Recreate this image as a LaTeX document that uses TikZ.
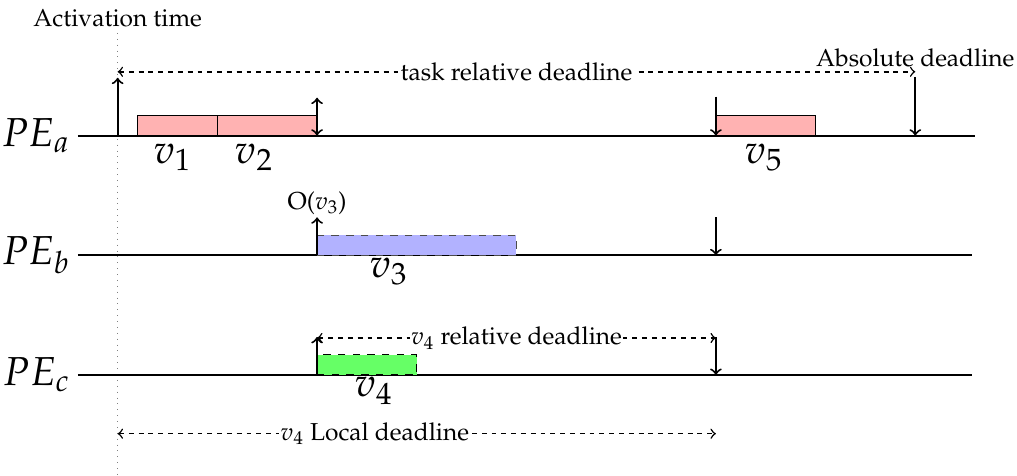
\documentclass[tikz,border=0pt]{standalone}
\usepackage[T1]{fontenc}
\usepackage{mathpazo}
\usetikzlibrary{shapes,arrows,positioning}

\tikzstyle{axis} = [thick]
\tikzstyle{task} = [draw, rectangle, anchor=south west, inner sep=0pt, outer sep=0pt,
    minimum height=0.286cm]
\tikzstyle{tick} = [thick, ->]
\tikzstyle{span} = [semithick, <->, dash pattern=on 2pt off 2pt]
\tikzstyle{lbl} = [fill=white, inner sep=0.5pt]
\tikzstyle{pe} = [left, inner sep=3pt, font=\fontsize{16.5pt}{20pt}\selectfont]
\tikzstyle{vname} = [font=\fontsize{16.5pt}{20pt}\selectfont, inner sep=0pt]

\begin{document}
\begin{tikzpicture}[x=1.43cm, y=1.43cm]
\useasboundingbox (-1.18,-3.41) rectangle (9.02,1.36);

\node [name=act] at (0,1.18) {Activation time};
\draw [gray, dotted, thin] (0,1.03) coordinate (actt) -- (0,-3.41) coordinate (actb);

\node [pe, name=pea] at (-0.4,0) {$PE_a$};
\node [pe, name=peb] at (-0.4,-1.2) {$PE_b$};
\node [pe, name=pec] at (-0.4,-2.4) {$PE_c$};
\coordinate (enda) at (8.6,0);
\coordinate (endb) at (8.57,-1.2);
\coordinate (endc) at (8.57,-2.4);
\draw [axis] (pea.east) -- (enda);
\draw [axis] (peb.east) -- (endb);
\draw [axis] (pec.east) -- (endc);

\node [task, fill=red!30, minimum width=1.144cm, name=v1box] at (0.2,0) {};
\node [task, fill=red!30, minimum width=1.43cm, name=v2box] at (v1box.south east) {};
\node [task, fill=red!30, minimum width=1.43cm, name=v5box] at (6,0) {};
\node [task, fill=blue!30, draw=black!70, dashed, minimum width=2.86cm, name=v3box] at (2,-1.2) {};
\node [task, fill=green!60, dashed, minimum width=1.43cm, name=v4box] at (2,-2.4) {};

\node [vname, name=v1] at (0.55,-0.22) {$v_1$};
\node [vname, name=v2] at (1.37,-0.22) {$v_2$};
\node [vname, name=v5] at (6.48,-0.22) {$v_5$};
\node [vname, name=v3] at (2.72,-1.36) {$v_3$};
\node [vname, name=v4] at (2.57,-2.56) {$v_4$};

\coordinate (a0) at (0,0);
\coordinate (a0top) at (0,0.58);
\draw [tick] (a0) -- (a0top);
\coordinate (trl) at (0,0.64);
\coordinate (trr) at (8,0.64);
\draw [span] (trl) -- node[lbl] {task relative deadline} (trr);
\coordinate (dl) at (8,0);
\coordinate (dltop) at (8,0.59);
\draw [tick] (dltop) -- (dl);
\node [name=absdl] at (8,0.78) {Absolute deadline};
\coordinate (a2) at (2,0);
\coordinate (a2top) at (2,0.38);
\draw [tick, <->] (a2) -- (a2top);
\coordinate (a6) at (6,0);
\coordinate (a6top) at (6,0.39);
\draw [tick] (a6top) -- (a6);

\coordinate (b2) at (2,-1.2);
\coordinate (b2top) at (2,-0.82);
\draw [tick] (b2) -- (b2top);
\node [above, inner sep=1pt, name=ov3] at (b2top) {O($v_3$)};
\coordinate (b6) at (6,-1.2);
\coordinate (b6top) at (6,-0.82);
\draw [tick] (b6top) -- (b6);

\coordinate (c2) at (2,-2.4);
\coordinate (c2top) at (2,-2.02);
\draw [tick] (c2) -- (c2top);
\coordinate (c6) at (6,-2.4);
\coordinate (c6top) at (6,-2.02);
\draw [tick] (c6top) -- (c6);
\coordinate (rdl) at (2,-2.03);
\coordinate (rdr) at (6,-2.03);
\draw [span] (rdl) -- node[lbl] {$v_4$ relative deadline} (rdr);

\coordinate (ldl) at (0,-2.99);
\coordinate (ldr) at (6,-2.99);
\draw [span] (ldl) -- node[lbl, pos=0.43] {$v_4$ Local deadline} (ldr);

\end{tikzpicture}
\end{document}
